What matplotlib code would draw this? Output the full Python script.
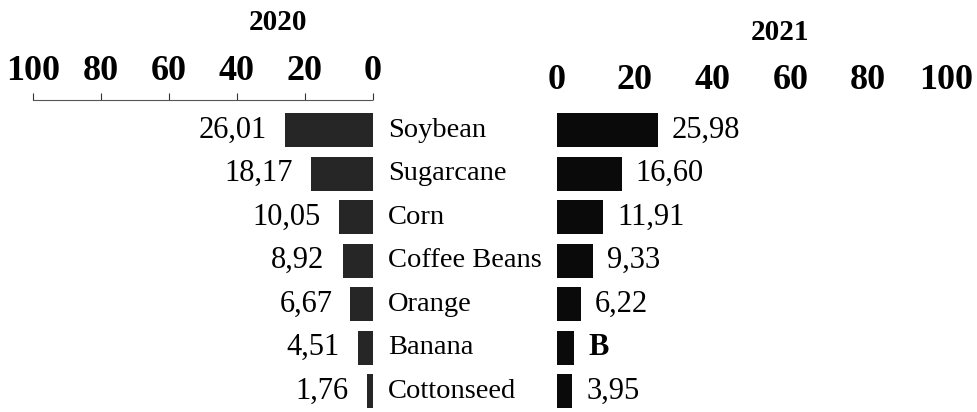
import matplotlib.pyplot as plt

# data
crops = ["Soybean", "Sugarcane", "Corn", "Coffee Beans", "Orange", "Banana", "Cottonseed"]
values_2020 = [26.01, 18.17, 10.05, 8.92, 6.67, 4.51, 1.76]
values_2021 = [25.98, 16.60, 11.91, 9.33, 6.22, 4.4, 3.95]
labels_2020 = ["26,01", "18,17", "10,05", "8,92", "6,67", "4,51", "1,76"]
labels_2021 = ["25,98", "16,60", "11,91", "9,33", "6,22", "B", "3,95"]
ticks = [0, 20, 40, 60, 80, 100]

W, H = 978, 412
plt.rcParams["font.family"] = ["Liberation Serif", "DejaVu Serif"]

fig = plt.figure(figsize=(W / 100, H / 100), dpi=100)

y_top, y_bot = 100, 412
ax_l = fig.add_axes([33 / W, 0, (373 - 33) / W, (y_bot - y_top) / H])
ax_r = fig.add_axes([557 / W, 0, (946 - 557) / W, (y_bot - y_top) / H])

rows = list(range(len(crops)))
for ax in (ax_l, ax_r):
    ax.set_ylim(6.48, -0.69)
    ax.set_facecolor("none")
    for s in ax.spines.values():
        s.set_visible(False)
    ax.set_yticks([])
    ax.xaxis.tick_top()
    ax.set_xticks(ticks)
    ax.set_xticklabels([str(t) for t in ticks], fontsize=26, fontweight="bold")

# left panel (2020), reversed axis
ax_l.set_xlim(100, 0)
ax_l.barh(rows, values_2020, height=0.78, color="#262626")
ax_l.spines["top"].set_visible(True)
ax_l.spines["top"].set_linestyle((0, (2, 1)))
ax_l.spines["top"].set_linewidth(0.8)
ax_l.spines["top"].set_color("#555555")
ax_l.tick_params(axis="x", length=5, width=0.8, color="#333333", pad=4)

for i, (v, lab) in enumerate(zip(values_2020, labels_2020)):
    ax_l.annotate(lab, (v, i), xytext=(-13, 0), textcoords="offset points",
                  ha="right", va="center", fontsize=22)

for i, name in enumerate(crops):
    ax_l.text(-4.4, i, name, ha="left", va="center", fontsize=20.5, clip_on=False)

# right panel (2021)
ax_r.set_xlim(0, 100)
ax_r.barh(rows, values_2021, height=0.78, color="#0a0a0a")
ax_r.tick_params(axis="x", length=0, pad=2)

for i, (v, lab) in enumerate(zip(values_2021, labels_2021)):
    bold = "bold" if lab == "B" else "normal"
    ax_r.annotate(lab, (v, i), xytext=(10, 0), textcoords="offset points",
                  ha="left", va="center", fontsize=22, fontweight=bold)

fig.text(278 / W, 1 - 22 / H, "2020", ha="center", va="center", fontsize=21, fontweight="bold")
fig.text(780 / W, 1 - 33 / H, "2021", ha="center", va="center", fontsize=21, fontweight="bold")

fig.savefig("out.png", dpi=100)
